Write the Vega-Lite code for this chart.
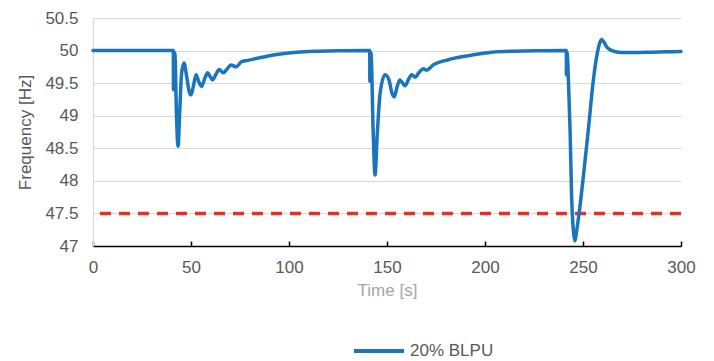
{
  "$schema": "https://vega.github.io/schema/vega-lite/v6.json",
  "autosize": {"type": "none"},
  "width": 588,
  "height": 228,
  "padding": {"left": 93, "top": 18, "right": 33, "bottom": 115},
  "config": {
    "font": "Liberation Sans",
    "view": {"stroke": null},
    "axis": {"labelFont": "Liberation Sans", "titleFont": "Liberation Sans", "labelFontSize": 17, "titleFontSize": 17, "labelColor": "#595959", "titleFontWeight": "normal"}
  },
  "datasets": {
    "freq": [
      {"t": 0, "f": 50, "s": "20% BLPU"},
      {"t": 41.0, "f": 50, "s": "20% BLPU"},
      {"t": 41.05, "f": 49.4, "s": "20% BLPU"},
      {"t": 41.1, "f": 49.98, "s": "20% BLPU"},
      {"t": 41.8, "f": 49.95, "s": "20% BLPU"},
      {"t": 42.6, "f": 49.0, "s": "20% BLPU"},
      {"t": 43.4, "f": 48.53, "s": "20% BLPU"},
      {"t": 44.3, "f": 49.1, "s": "20% BLPU"},
      {"t": 45.2, "f": 49.65, "s": "20% BLPU"},
      {"t": 46.4, "f": 49.81, "s": "20% BLPU"},
      {"t": 47.8, "f": 49.6, "s": "20% BLPU"},
      {"t": 49.0, "f": 49.38, "s": "20% BLPU"},
      {"t": 50.0, "f": 49.32, "s": "20% BLPU"},
      {"t": 51.2, "f": 49.45, "s": "20% BLPU"},
      {"t": 52.6, "f": 49.63, "s": "20% BLPU"},
      {"t": 54.0, "f": 49.52, "s": "20% BLPU"},
      {"t": 55.4, "f": 49.45, "s": "20% BLPU"},
      {"t": 57.0, "f": 49.57, "s": "20% BLPU"},
      {"t": 58.5, "f": 49.66, "s": "20% BLPU"},
      {"t": 59.8, "f": 49.6, "s": "20% BLPU"},
      {"t": 61.0, "f": 49.55, "s": "20% BLPU"},
      {"t": 62.8, "f": 49.64, "s": "20% BLPU"},
      {"t": 64.4, "f": 49.71, "s": "20% BLPU"},
      {"t": 66.5, "f": 49.66, "s": "20% BLPU"},
      {"t": 68.5, "f": 49.72, "s": "20% BLPU"},
      {"t": 70.4, "f": 49.78, "s": "20% BLPU"},
      {"t": 73.0, "f": 49.75, "s": "20% BLPU"},
      {"t": 75.8, "f": 49.83, "s": "20% BLPU"},
      {"t": 79.0, "f": 49.85, "s": "20% BLPU"},
      {"t": 85.0, "f": 49.89, "s": "20% BLPU"},
      {"t": 93.7, "f": 49.94, "s": "20% BLPU"},
      {"t": 104.0, "f": 49.975, "s": "20% BLPU"},
      {"t": 115.0, "f": 49.99, "s": "20% BLPU"},
      {"t": 125.0, "f": 49.997, "s": "20% BLPU"},
      {"t": 141.2, "f": 50, "s": "20% BLPU"},
      {"t": 141.25, "f": 49.53, "s": "20% BLPU"},
      {"t": 141.3, "f": 49.98, "s": "20% BLPU"},
      {"t": 141.9, "f": 49.95, "s": "20% BLPU"},
      {"t": 142.9, "f": 48.8, "s": "20% BLPU"},
      {"t": 143.9, "f": 48.09, "s": "20% BLPU"},
      {"t": 145.0, "f": 48.7, "s": "20% BLPU"},
      {"t": 146.5, "f": 49.35, "s": "20% BLPU"},
      {"t": 149.0, "f": 49.63, "s": "20% BLPU"},
      {"t": 151.0, "f": 49.55, "s": "20% BLPU"},
      {"t": 152.5, "f": 49.35, "s": "20% BLPU"},
      {"t": 153.7, "f": 49.29, "s": "20% BLPU"},
      {"t": 155.2, "f": 49.45, "s": "20% BLPU"},
      {"t": 156.6, "f": 49.55, "s": "20% BLPU"},
      {"t": 158.0, "f": 49.5, "s": "20% BLPU"},
      {"t": 159.2, "f": 49.46, "s": "20% BLPU"},
      {"t": 161.0, "f": 49.56, "s": "20% BLPU"},
      {"t": 162.6, "f": 49.63, "s": "20% BLPU"},
      {"t": 164.3, "f": 49.59, "s": "20% BLPU"},
      {"t": 166.5, "f": 49.67, "s": "20% BLPU"},
      {"t": 168.5, "f": 49.72, "s": "20% BLPU"},
      {"t": 170.2, "f": 49.7, "s": "20% BLPU"},
      {"t": 173.6, "f": 49.78, "s": "20% BLPU"},
      {"t": 181.3, "f": 49.86, "s": "20% BLPU"},
      {"t": 191.5, "f": 49.92, "s": "20% BLPU"},
      {"t": 203.4, "f": 49.975, "s": "20% BLPU"},
      {"t": 215.0, "f": 49.99, "s": "20% BLPU"},
      {"t": 228.0, "f": 49.997, "s": "20% BLPU"},
      {"t": 241.5, "f": 50, "s": "20% BLPU"},
      {"t": 241.55, "f": 49.63, "s": "20% BLPU"},
      {"t": 241.6, "f": 49.98, "s": "20% BLPU"},
      {"t": 242.0, "f": 49.95, "s": "20% BLPU"},
      {"t": 242.6, "f": 49.5, "s": "20% BLPU"},
      {"t": 243.4, "f": 48.78, "s": "20% BLPU"},
      {"t": 244.2, "f": 47.75, "s": "20% BLPU"},
      {"t": 244.8, "f": 47.35, "s": "20% BLPU"},
      {"t": 245.4, "f": 47.15, "s": "20% BLPU"},
      {"t": 245.9, "f": 47.08, "s": "20% BLPU"},
      {"t": 246.6, "f": 47.2, "s": "20% BLPU"},
      {"t": 248.0, "f": 47.5, "s": "20% BLPU"},
      {"t": 250.3, "f": 48.1, "s": "20% BLPU"},
      {"t": 252.7, "f": 48.78, "s": "20% BLPU"},
      {"t": 255.3, "f": 49.55, "s": "20% BLPU"},
      {"t": 257.5, "f": 49.99, "s": "20% BLPU"},
      {"t": 258.7, "f": 50.13, "s": "20% BLPU"},
      {"t": 259.5, "f": 50.17, "s": "20% BLPU"},
      {"t": 260.7, "f": 50.13, "s": "20% BLPU"},
      {"t": 262.0, "f": 50.06, "s": "20% BLPU"},
      {"t": 263.5, "f": 50.02, "s": "20% BLPU"},
      {"t": 265.5, "f": 49.99, "s": "20% BLPU"},
      {"t": 268.0, "f": 49.975, "s": "20% BLPU"},
      {"t": 272.0, "f": 49.97, "s": "20% BLPU"},
      {"t": 276.0, "f": 49.97, "s": "20% BLPU"},
      {"t": 285.0, "f": 49.975, "s": "20% BLPU"},
      {"t": 293.0, "f": 49.98, "s": "20% BLPU"},
      {"t": 300.0, "f": 49.985, "s": "20% BLPU"}
    ],
    "limit": [{"f": 47.5}]
  },
  "encoding": {
    "y": {"field": "f", "type": "quantitative", "scale": {"domain": [47, 50.5], "nice": false, "zero": false},
      "axis": {"title": "Frequency [Hz]", "titleColor": "#595959", "values": [47, 47.5, 48, 48.5, 49, 49.5, 50, 50.5], "format": "~g", "ticks": false, "domain": true, "domainColor": "#d9d9d9", "domainWidth": 1.2, "gridColor": "#d9d9d9", "gridWidth": 1.2, "labelPadding": 15, "titlePadding": 10}}
  },
  "layer": [
    {
      "data": {"name": "limit"},
      "mark": {"type": "rule", "color": "#e8302a", "strokeWidth": 3.5, "strokeDash": [11, 8]}
    },
    {
      "data": {"name": "freq"},
      "mark": {"type": "line", "interpolate": "monotone", "strokeWidth": 3.5, "strokeJoin": "round", "strokeCap": "round"},
      "encoding": {
        "x": {"field": "t", "type": "quantitative", "scale": {"domain": [0, 300], "nice": false},
          "axis": {"title": "Time [s]", "titleColor": "#a6a6a6", "values": [0, 50, 100, 150, 200, 250, 300], "labelFlush": false, "domainColor": "#000000", "domainWidth": 1.5, "tickColor": "#000000", "tickSize": -5, "tickWidth": 1.5, "labelPadding": 18, "titlePadding": 7, "grid": false}},
        "color": {"field": "s", "type": "nominal", "scale": {"range": ["#1b75bc"]},
          "legend": {"title": null, "orient": "none", "legendX": 259, "legendY": 306, "symbolType": "stroke", "symbolSize": 2500, "symbolStrokeWidth": 4, "labelFontSize": 17, "labelColor": "#595959", "labelFont": "Liberation Sans", "labelOffset": 4}}
      }
    }
  ]
}
